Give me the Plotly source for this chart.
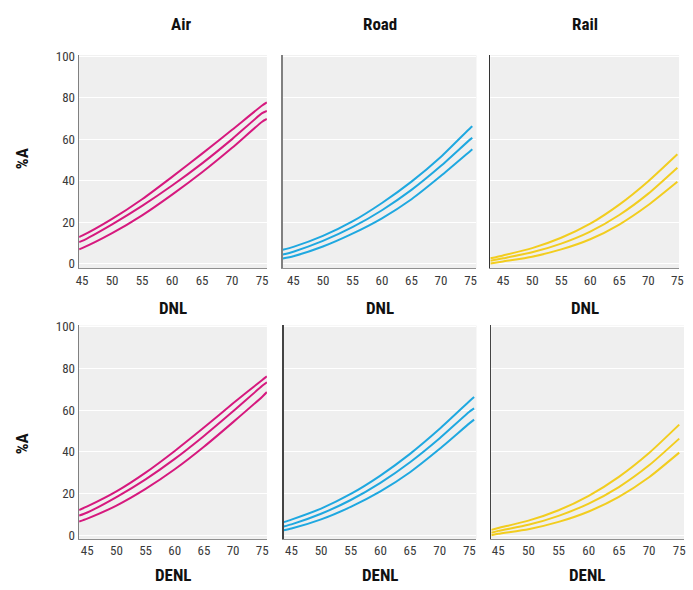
import plotly.graph_objects as go

# ---------------- data ----------------
# DNL (top row)
air_dnl_x = [44.5, 45, 50, 55, 60, 65, 70, 75, 75.8]
air_dnl_hi = [12.8, 13.4, 21.5, 31.0, 41.8, 53.0, 64.5, 76.2, 77.7]
air_dnl_mid = [10.4, 10.9, 18.9, 27.8, 37.6, 48.3, 60.0, 72.5, 73.6]
air_dnl_lo = [6.9, 7.4, 14.6, 23.2, 33.2, 44.0, 55.8, 68.4, 69.7]

road_dnl_x = [43.2, 45, 50, 55, 60, 65, 70, 75, 75.3]
road_dnl_hi = [6.6, 8.0, 13.3, 20.3, 29.2, 39.5, 51.5, 65.5, 66.2]
road_dnl_mid = [4.3, 5.7, 10.9, 17.5, 25.7, 35.5, 47.1, 60.0, 60.6]
road_dnl_lo = [2.4, 3.5, 8.2, 14.4, 21.8, 31.0, 42.3, 54.4, 55.1]

rail_dnl_x = [42.8, 45, 50, 55, 60, 65, 70, 75]
rail_dnl_hi = [2.5, 3.9, 7.4, 12.4, 19.2, 28.4, 39.7, 52.7]
rail_dnl_mid = [1.3, 2.5, 5.4, 9.6, 15.4, 23.4, 33.7, 46.2]
rail_dnl_lo = [0.0, 1.0, 3.3, 6.8, 11.7, 18.8, 28.2, 39.4]

# DENL (bottom row)
air_denl_x = [43.6, 45, 50, 55, 60, 65, 70, 75, 75.8]
air_denl_hi = [12.1, 13.8, 21.0, 30.0, 40.4, 51.6, 63.2, 74.4, 76.1]
air_denl_mid = [9.4, 10.9, 18.3, 26.8, 36.6, 47.6, 59.4, 71.6, 73.3]
air_denl_lo = [6.6, 8.0, 14.2, 22.2, 31.6, 42.4, 54.2, 66.4, 68.6]

road_denl_x = [43.7, 45, 50, 55, 60, 65, 70, 75, 75.8]
road_denl_hi = [6.3, 7.5, 12.8, 19.8, 28.6, 39.0, 51.0, 64.2, 66.2]
road_denl_mid = [4.2, 5.2, 10.3, 16.9, 25.1, 35.0, 46.5, 59.2, 60.8]
road_denl_lo = [2.4, 3.2, 7.6, 13.6, 21.0, 30.2, 41.4, 53.6, 55.4]

rail_denl_x = [43.85, 45, 50, 55, 60, 65, 70, 75]
rail_denl_hi = [2.6, 3.5, 7.0, 12.0, 18.9, 28.0, 39.4, 53.0]
rail_denl_mid = [1.2, 2.1, 5.0, 9.3, 15.2, 23.1, 33.5, 46.3]
rail_denl_lo = [0.0, 0.7, 2.9, 6.4, 11.4, 18.4, 27.8, 39.6]

mode_titles = ["Air", "Road", "Rail"]
x_titles = ["DNL", "DENL"]
y_title = "%A"
x_ticks = [45, 50, 55, 60, 65, 70, 75]
y_ticks = [0, 20, 40, 60, 80, 100]

colors = ["#d6197e", "#1fa8e0", "#f2cd1f"]

panels = [
    (air_dnl_x, air_dnl_hi, air_dnl_mid, air_dnl_lo),
    (road_dnl_x, road_dnl_hi, road_dnl_mid, road_dnl_lo),
    (rail_dnl_x, rail_dnl_hi, rail_dnl_mid, rail_dnl_lo),
    (air_denl_x, air_denl_hi, air_denl_mid, air_denl_lo),
    (road_denl_x, road_denl_hi, road_denl_mid, road_denl_lo),
    (rail_denl_x, rail_denl_hi, rail_denl_mid, rail_denl_lo),
]

# ---------------- layout geometry (pixels) ----------------
W, H = 693, 590
col_px = [[(77, 267), (283, 479), (493, 684)],
          [(77, 267), (284, 479), (494, 689)]]
row_px = [(50, 267), (325, 542)]
x_ranges = [[(44.5, 75.8), (43.2, 76.0), (42.8, 75.3)],
            [(43.6, 75.8), (43.7, 76.2), (43.85, 75.8)]]
y_ranges = [(-2.4, 100.5), (-1.7, 100.5)]
left_line_colors = [["#808080", "#808080", "#333333"],
                    ["#808080", "#444444", "#444444"]]

FONT = "Liberation Sans Narrow, Roboto Condensed, Liberation Sans, Arial"

fig = go.Figure()
layout = dict(
    width=W, height=H,
    margin=dict(l=0, r=0, t=0, b=0),
    paper_bgcolor="white", plot_bgcolor="#efefef",
    showlegend=False,
    font=dict(family=FONT, size=13, color="#333333"),
)

annotations = []
for r in range(2):
    for c in range(3):
        i = r * 3 + c
        ax = i + 1
        xa = "xaxis" if ax == 1 else f"xaxis{ax}"
        ya = "yaxis" if ax == 1 else f"yaxis{ax}"
        xref = "x" if ax == 1 else f"x{ax}"
        yref = "y" if ax == 1 else f"y{ax}"
        x0, x1 = col_px[r][c]
        y0, y1 = row_px[r]
        layout[xa] = dict(
            domain=[x0 / W, x1 / W], anchor=yref,
            range=list(x_ranges[r][c]), tickvals=x_ticks,
            showgrid=False, zeroline=False,
            showline=True, linecolor="#909090", linewidth=1,
            ticks="", tickfont=dict(family=FONT, size=13, color="#3a3a3a"),
            fixedrange=True,
        )
        layout[ya] = dict(
            domain=[1 - y1 / H, 1 - y0 / H], anchor=xref,
            range=list(y_ranges[r]), tickvals=y_ticks,
            showgrid=True, gridcolor="white", gridwidth=1,
            zeroline=False, showline=True,
            linecolor=left_line_colors[r][c], linewidth=1.5,
            ticks="", showticklabels=(c == 0),
            tickfont=dict(family=FONT, size=13, color="#3a3a3a"),
            fixedrange=True,
        )
        px, hi, mid, lo = panels[i]
        for ys in (hi, mid, lo):
            fig.add_trace(go.Scatter(
                x=px, y=ys, mode="lines", xaxis=xref, yaxis=yref,
                line=dict(color=colors[c], width=2, shape="spline", smoothing=0.6),
                hoverinfo="skip",
            ))
        annotations.append(dict(
            text=f"<b>{x_titles[r]}</b>", x=(x0 + x1) / 2 / W,
            y=1 - (307 if r == 0 else 579) / H,
            xref="paper", yref="paper", showarrow=False,
            font=dict(family=FONT, size=17, color="#111111"),
            xanchor="center", yanchor="middle",
        ))
    annotations.append(dict(
        text=f"<b>{y_title}</b>", x=20 / W,
        y=1 - (155 if r == 0 else 445) / H,
        xref="paper", yref="paper", showarrow=False, textangle=-90,
        font=dict(family=FONT, size=17, color="#111111"),
        xanchor="center", yanchor="middle",
    ))

for c in range(3):
    x0, x1 = col_px[0][c]
    annotations.append(dict(
        text=f"<b>{mode_titles[c]}</b>", x=(x0 + x1) / 2 / W + (0.012 if c == 0 else 0),
        y=1 - 18 / H, xref="paper", yref="paper", showarrow=False,
        font=dict(family=FONT, size=17, color="#111111"),
        xanchor="center", yanchor="middle",
    ))

layout["annotations"] = annotations
fig.update_layout(**layout)
fig.write_html(
    "out.html",
    config={"displayModeBar": False, "staticPlot": True},
    post_script="document.body.style.margin='0';document.body.style.overflow='hidden';",
)
